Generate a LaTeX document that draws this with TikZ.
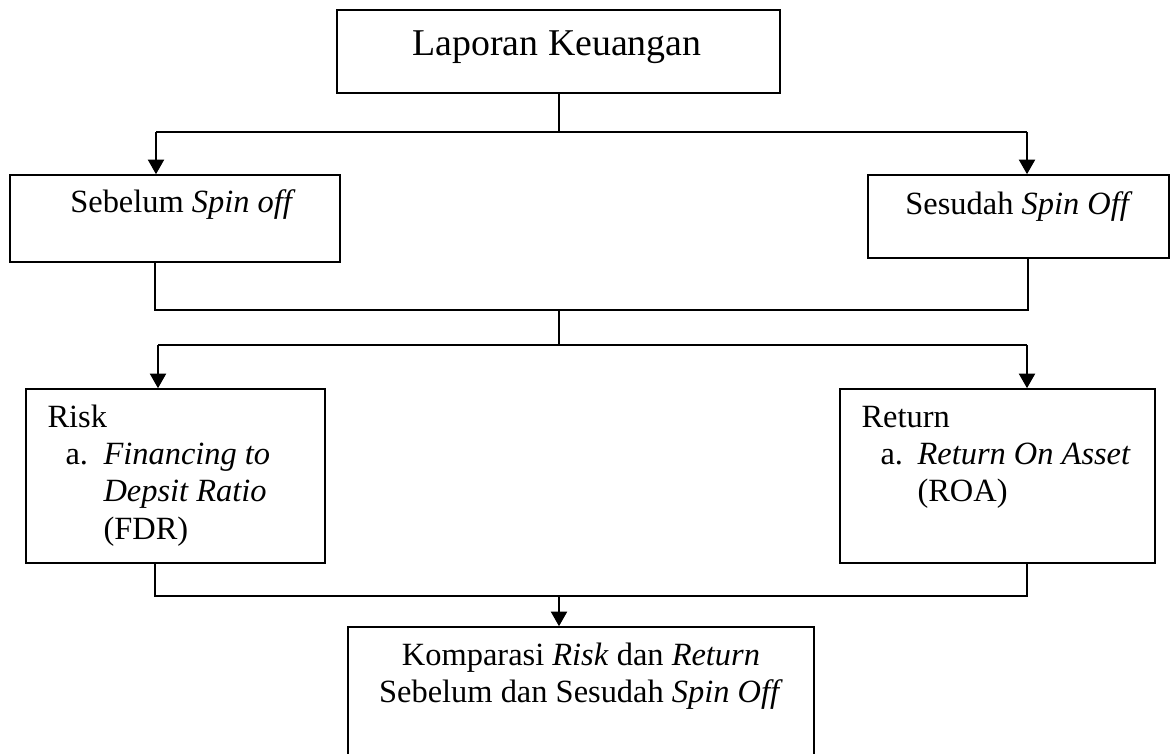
\documentclass[tikz,border=0pt]{standalone}
\usepackage{fontspec}
\setmainfont{Liberation Serif}
\usetikzlibrary{arrows.meta,fit}
\begin{document}
\begin{tikzpicture}[x=0.37pt,y=-0.37pt,
  box/.style={draw, line width=0.6pt, inner sep=0pt},
  txt/.style={inner sep=0pt, font=\fontsize{12pt}{14pt}\selectfont},
  line/.style={draw, line width=0.55pt},
  arr/.style={line, -{Triangle[width=6pt,length=5.4pt]}}]
\useasboundingbox (0,0) rectangle (1174,754);
\clip (0,0) rectangle (1174,754);
% boxes
\node[box, fit={(337,10) (780,93)}] (lap) {};
\node[box, fit={(10,175) (340,262)}] (seb) {};
\node[box, fit={(868,175) (1169,258)}] (ses) {};
\node[box, fit={(26,389) (325,563)}] (risk) {};
\node[box, fit={(840,389) (1155,563)}] (ret) {};
\node[box, fit={(348,627) (814,790)}] (komp) {};
% texts
\node[txt, font=\fontsize{14pt}{16pt}\selectfont, anchor=base] (tlap) at (557,56) {Laporan Keuangan};
\node[txt, anchor=base] (tseb) at (183,213) {Sebelum \textit{Spin off}};
\node[txt, anchor=base] (tses) at (1019,215) {Sesudah \textit{Spin Off}};
\node[txt, anchor=base west] (r1) at (47,428) {Risk};
\node[txt, anchor=base west] (r2) at (65,465) {a.};
\node[txt, anchor=base west] (r3) at (103,465) {\textit{Financing to}};
\node[txt, anchor=base west] (r4) at (103,502) {\textit{Depsit Ratio}};
\node[txt, anchor=base west] (r5) at (103,540) {(FDR)};
\node[txt, anchor=base west] (q1) at (861,428) {Return};
\node[txt, anchor=base west] (q2) at (880,465) {a.};
\node[txt, anchor=base west] (q3) at (917,465) {\textit{Return On Asset}};
\node[txt, anchor=base west] (q4) at (917,502) {(ROA)};
\node[txt, anchor=base] (k1) at (581,666) {Komparasi \textit{Risk} dan \textit{Return}};
\node[txt, anchor=base] (k2) at (581,702) {Sebelum dan Sesudah \textit{Spin Off}};
% junction coordinates
\coordinate (c1) at (559,132);
\coordinate (aL) at (156,132);
\coordinate (aR) at (1027,132);
\coordinate (bL) at (155,310);
\coordinate (bM) at (559,310);
\coordinate (bR) at (1028,310);
\coordinate (c2) at (559,345);
\coordinate (dL) at (158,345);
\coordinate (dR) at (1027,345);
\coordinate (eL) at (155,596);
\coordinate (eM) at (559,596);
\coordinate (eR) at (1027,596);
% connectors
\draw[line] (lap.south -| c1) -- (c1);
\draw[line] (aL) -- (aR);
\draw[arr] (aL) -- (aL |- seb.north);
\draw[arr] (aR) -- (aR |- ses.north);
\draw[line] (seb.south -| bL) -- (bL) -- (bR) -- (ses.south -| bR);
\draw[line] (bM) -- (c2);
\draw[line] (dL) -- (dR);
\draw[arr] (dL) -- (dL |- risk.north);
\draw[arr] (dR) -- (dR |- ret.north);
\draw[line] (risk.south -| eL) -- (eL) -- (eR) -- (ret.south -| eR);
\draw[arr] (eM) -- (eM |- komp.north);
\end{tikzpicture}
\end{document}
